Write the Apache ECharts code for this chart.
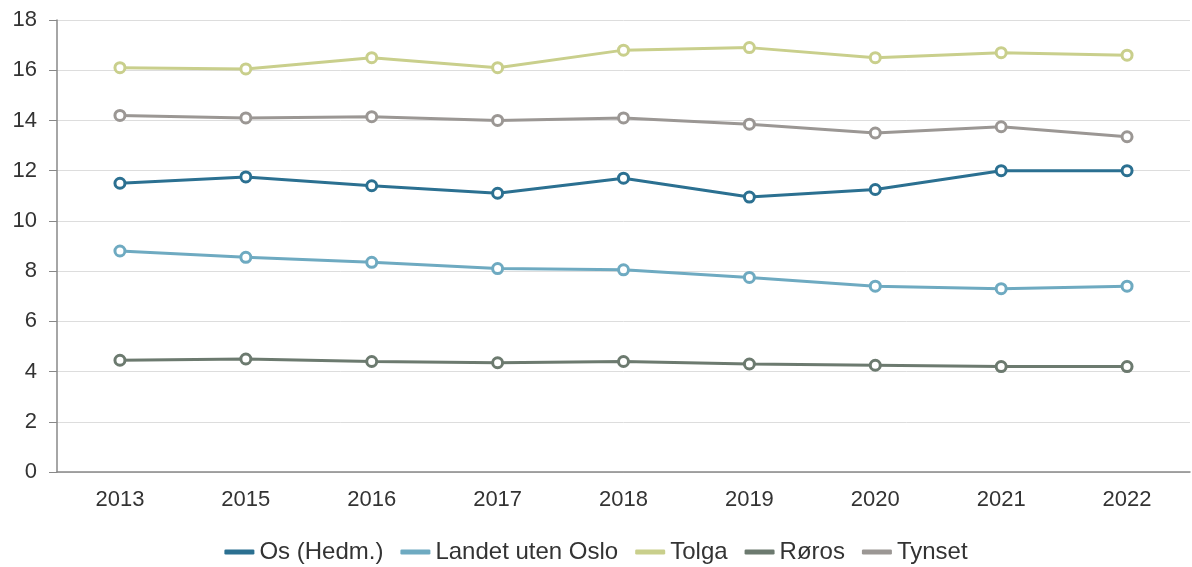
<!DOCTYPE html>
<html>
<head>
<meta charset="utf-8">
<script src="https://cdn.jsdelivr.net/npm/echarts@6/dist/echarts.min.js"></script>
<style>
  html, body { margin: 0; padding: 0; background: #fff; }
  #main { width: 1192px; height: 567px; }
</style>
</head>
<body>
<div id="main"></div>
<script>
var years = ['2013', '2015', '2016', '2017', '2018', '2019', '2020', '2021', '2022'];
var osHedm = [11.5, 11.75, 11.4, 11.1, 11.7, 10.95, 11.25, 12.0, 12.0];
var landetUtenOslo = [8.8, 8.55, 8.35, 8.1, 8.05, 7.75, 7.4, 7.3, 7.4];
var tolga = [16.1, 16.05, 16.5, 16.1, 16.8, 16.9, 16.5, 16.7, 16.6];
var roros = [4.45, 4.5, 4.4, 4.35, 4.4, 4.3, 4.25, 4.2, 4.2];
var tynset = [14.2, 14.1, 14.15, 14.0, 14.1, 13.85, 13.5, 13.75, 13.35];

var names = ['Os (Hedm.)', 'Landet uten Oslo', 'Tolga', 'Røros', 'Tynset'];
var colors = ['#2b7091', '#6eaac1', '#c9cf8c', '#6c7a6f', '#9b9794'];
var data = [osHedm, landetUtenOslo, tolga, roros, tynset];

var chartDom = document.getElementById('main');
var myChart = echarts.init(chartDom);
var option;

var series = [];
var legendData = [];
for (var i = 0; i < names.length; i++) {
  series.push({
    name: names[i],
    type: 'line',
    data: data[i],
    symbol: 'circle',
    symbolSize: 10,
    lineStyle: { width: 3, color: colors[i] },
    itemStyle: { color: '#fff', borderColor: colors[i], borderWidth: 3 }
  });
  legendData.push({
    name: names[i],
    itemStyle: { color: colors[i], borderWidth: 0 }
  });
}

option = {
  animation: false,
  color: colors,
  grid: { left: 57, right: 2, top: 20, bottom: 95 },
  legend: {
    top: 535,
    left: 'center',
    itemWidth: 30,
    itemHeight: 5,
    itemGap: 17,
    icon: 'roundRect',
    textStyle: { fontSize: 24, color: '#333', fontFamily: 'Liberation Sans' },
    data: legendData
  },
  xAxis: {
    type: 'category',
    data: years,
    boundaryGap: true,
    axisLine: { lineStyle: { color: '#888', width: 1.5 } },
    axisTick: { length: 8, lineStyle: { color: '#888' } },
    axisLabel: { fontSize: 22, color: '#333', margin: 17, fontFamily: 'Liberation Sans' }
  },
  yAxis: {
    type: 'value',
    min: 0,
    max: 18,
    interval: 2,
    axisLine: { show: true, lineStyle: { color: '#888', width: 1.5 } },
    axisTick: { show: true, length: 8, lineStyle: { color: '#888' } },
    axisLabel: { fontSize: 22, color: '#333', margin: 20, fontFamily: 'Liberation Sans' },
    splitLine: { lineStyle: { color: '#ddd' } }
  },
  series: series
};

option && myChart.setOption(option);
</script>
</body>
</html>
